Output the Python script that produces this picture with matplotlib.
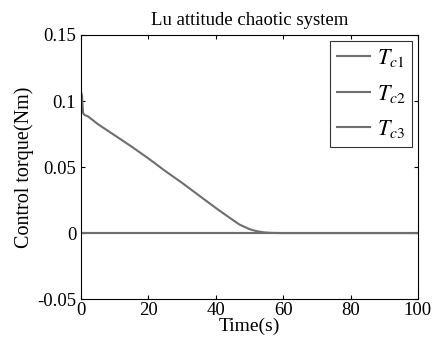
import numpy as np
import matplotlib.pyplot as plt

plt.rcParams['font.family'] = 'Liberation Serif'
plt.rcParams['mathtext.fontset'] = 'stix'

# --- DATA ---
time = [0, 0.3, 0.6, 1, 2, 5, 10, 15, 20, 25, 30, 35, 40, 45, 47, 50, 52, 54, 56, 58, 60, 100]
tc2 = [0.107, 0.104, 0.091, 0.0895, 0.0885, 0.0825, 0.074, 0.0655, 0.0565, 0.047, 0.038,
       0.0285, 0.019, 0.0100, 0.0065, 0.003, 0.0015, 0.0006, 0.0002, 0.00005, 0.0, 0.0]
tc1 = [0.0] * len(time)
tc3 = [0.0] * len(time)
labels = [r'$\mathit{T}_{\mathit{c1}}$', r'$\mathit{T}_{\mathit{c2}}$', r'$\mathit{T}_{\mathit{c3}}$']
xticks = [0, 20, 40, 60, 80, 100]
yticks = [-0.05, 0, 0.05, 0.1, 0.15]
yticklabels = ['-0.05', '0', '0.05', '0.1', '0.15']

# --- PLOT ---
fig = plt.figure(figsize=(4.37, 3.43), dpi=100)
ax = fig.add_axes([0.1854, 0.128, 0.771, 0.770])

grey = '#6e6e6e'
for y, lab in zip([tc1, tc2, tc3], labels):
    ax.plot(time, y, color=grey, lw=1.5, label=lab)

ax.set_xlim(0, 100)
ax.set_ylim(-0.05, 0.15)
ax.set_xticks(xticks)
ax.set_yticks(yticks)
ax.set_yticklabels(yticklabels)
ax.tick_params(direction='in', top=True, right=True, labelsize=13.5, length=3, width=0.8)
ax.tick_params(axis='x', pad=2)

ax.set_title('Lu attitude chaotic system', fontsize=13.5, pad=7)
ax.set_xlabel('Time(s)', fontsize=14, labelpad=-1)
ax.set_ylabel('Control torque(Nm)', fontsize=14.5, labelpad=2)

leg = ax.legend(loc='upper right', fontsize=16, frameon=True, fancybox=False,
                edgecolor='black', handlelength=1.5, borderaxespad=0.25,
                labelspacing=0.6, handletextpad=0.3, borderpad=0.3)
leg.get_frame().set_linewidth(0.8)

fig.savefig('out.png', dpi=100)
